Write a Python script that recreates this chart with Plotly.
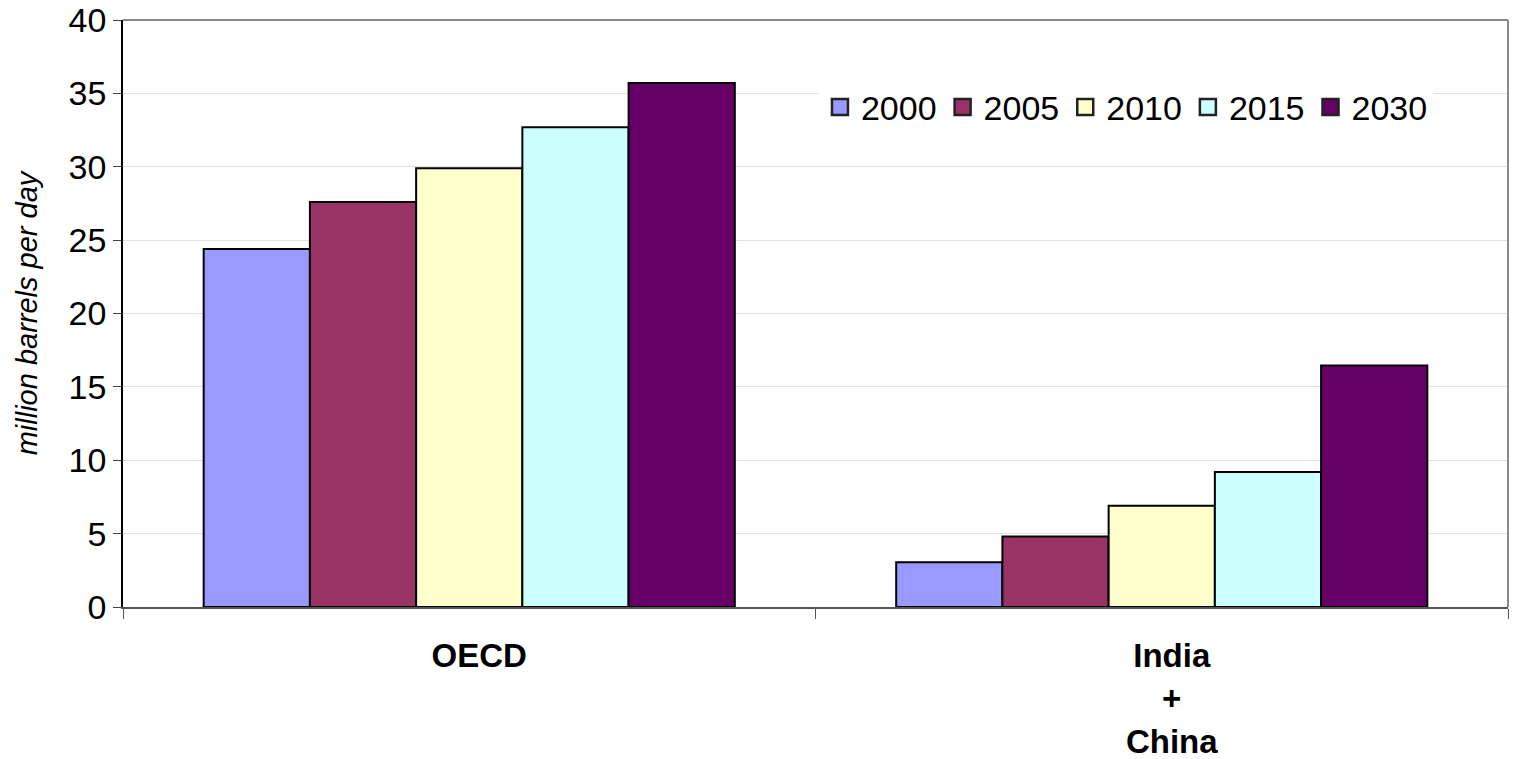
import plotly.graph_objects as go

categories = ["OECD", "India<br>+<br>China"]
years = ["2000", "2005", "2010", "2015", "2030"]
values_2000 = [24.4, 3.05]
values_2005 = [27.6, 4.8]
values_2010 = [29.9, 6.9]
values_2015 = [32.7, 9.2]
values_2030 = [35.7, 16.45]
colors = ["#9999FF", "#993366", "#FFFFCC", "#CCFFFF", "#660066"]

series = [values_2000, values_2005, values_2010, values_2015, values_2030]

fig = go.Figure()
for name, vals, col in zip(years, series, colors):
    fig.add_trace(go.Bar(
        x=categories, y=vals, name=name, showlegend=False,
        marker=dict(color=col, line=dict(color="black", width=2)),
    ))
# legend entries with larger square swatches
for name, col in zip(years, colors):
    fig.add_trace(go.Scatter(
        x=[None], y=[None], mode="markers", name=name,
        marker=dict(symbol="square", size=19, color=col, line=dict(color="#222222", width=2.5)),
    ))

fig.update_layout(
    width=1513, height=759,
    margin=dict(l=123, r=5, t=20, b=152),
    paper_bgcolor="white", plot_bgcolor="white",
    barmode="group", bargap=0.233, bargroupgap=0,
    font=dict(family="Liberation Sans, Arial, sans-serif", color="black"),
    legend=dict(
        orientation="h", x=0.5025, y=0.851, xanchor="left", yanchor="middle",
        font=dict(family="Liberation Sans, Arial", size=34),
        bgcolor="white", itemclick=False, tracegroupgap=0, itemwidth=32,
    ),
    xaxis=dict(
        type="category", range=[-0.5, 1.5], automargin=False,
        showline=True, linecolor="#555555", linewidth=1.5,
        ticks="outside", tickson="boundaries", ticklen=10, tickcolor="#555555",
        tickfont=dict(size=33, family="Liberation Sans, Arial", weight="bold"),
        ticklabelstandoff=19, ticklabelshift=10,
        showgrid=False,
    ),
    yaxis=dict(
        range=[0, 40], dtick=5, automargin=False,
        showline=True, linecolor="black", linewidth=1.5,
        ticks="outside", ticklen=8, tickcolor="#444444",
        tickfont=dict(size=34),
        showgrid=True, gridcolor="#e2e2e2", gridwidth=1,
        zeroline=False,
        title=dict(text="<i>million barrels per day</i>", font=dict(size=29), standoff=22),
    ),
    showlegend=True,
)

# plot area border on top and right
fig.add_shape(type="line", xref="paper", yref="paper", x0=0, x1=1, y0=1, y1=1,
              line=dict(color="#888888", width=2), layer="above")
fig.add_shape(type="line", xref="paper", yref="paper", x0=1, x1=1, y0=0, y1=1,
              line=dict(color="#888888", width=2), layer="above")

fig.write_html("out.html")
